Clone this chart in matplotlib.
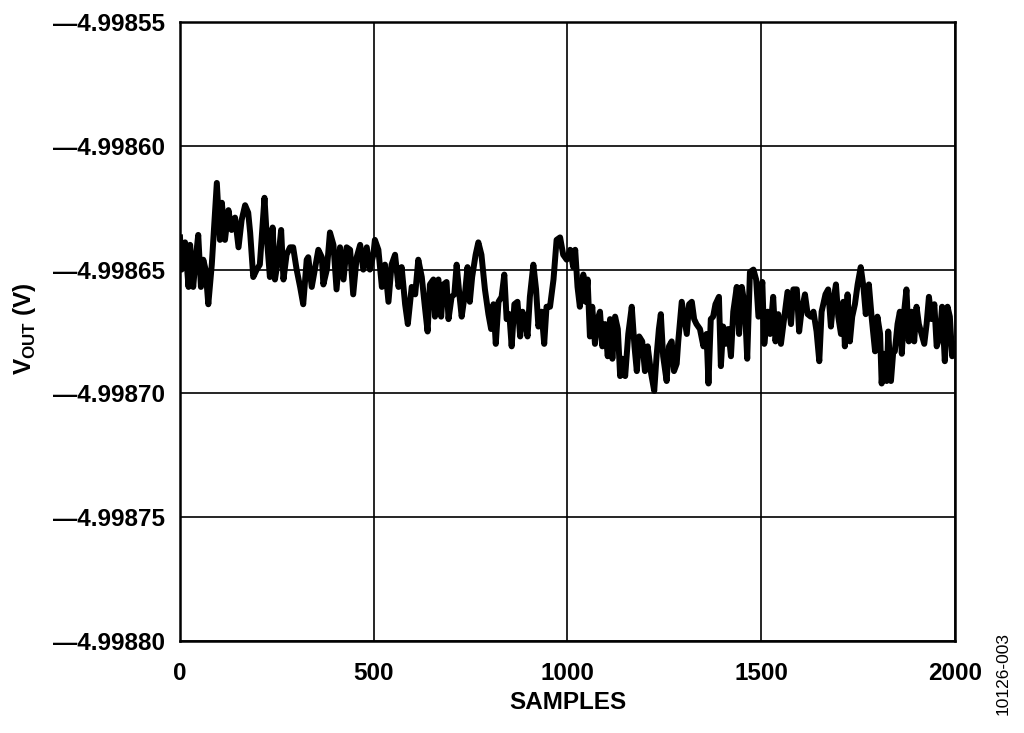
import numpy as np
import matplotlib.pyplot as plt
from matplotlib.ticker import FuncFormatter

plt.switch_backend('agg')
plt.rcParams['font.family'] = ['Liberation Sans', 'DejaVu Sans']
plt.rcParams['font.weight'] = 'bold'
plt.rcParams['mathtext.fontset'] = 'custom'
plt.rcParams['mathtext.rm'] = 'Liberation Sans:bold'
plt.rcParams['mathtext.bf'] = 'Liberation Sans:bold'

# sample index
samples = [
    0, 4, 13, 22, 26, 34, 39, 47, 54, 60, 66, 73, 82, 86, 95, 103,
    108, 116, 125, 133, 142, 151, 159, 168, 176, 181, 189, 198, 206, 218, 224, 232,
    239, 245, 254, 261, 267, 275, 284, 292, 301, 310, 318, 327, 331, 340, 348, 357,
    366, 370, 379, 387, 396, 404, 413, 422, 430, 439, 447, 456, 465, 473, 482, 490,
    499, 503, 512, 521, 529, 538, 546, 555, 564, 572, 581, 588, 598, 607, 615, 624,
    632, 639, 645, 654, 658, 667, 674, 680, 688, 693, 701, 708, 714, 721, 727, 736,
    742, 748, 754, 763, 770, 778, 787, 796, 803, 809, 815, 822, 830, 837, 843, 850,
    856, 863, 871, 878, 884, 890, 897, 903, 912, 919, 925, 933, 940, 946, 955, 964,
    972, 981, 989, 998, 1007, 1015, 1020, 1026, 1032, 1041, 1047, 1052, 1058, 1064, 1071, 1078,
    1084, 1090, 1097, 1104, 1110, 1116, 1123, 1130, 1136, 1142, 1149, 1157, 1166, 1173, 1179, 1185,
    1193, 1200, 1207, 1216, 1224, 1230, 1236, 1241, 1247, 1256, 1262, 1269, 1275, 1282, 1286, 1295,
    1302, 1308, 1314, 1321, 1327, 1333, 1342, 1351, 1359, 1364, 1370, 1376, 1382, 1391, 1396, 1402,
    1408, 1415, 1422, 1428, 1437, 1443, 1450, 1458, 1464, 1471, 1480, 1487, 1493, 1503, 1508, 1517,
    1523, 1531, 1537, 1544, 1551, 1560, 1568, 1577, 1583, 1592, 1598, 1604, 1613, 1620, 1628, 1635,
    1643, 1650, 1656, 1666, 1673, 1680, 1686, 1693, 1699, 1706, 1712, 1716, 1723, 1729, 1735, 1742,
    1749, 1757, 1764, 1770, 1778, 1785, 1794, 1800, 1807, 1811, 1817, 1824, 1828, 1835, 1841, 1845,
    1852, 1858, 1863, 1869, 1875, 1881, 1888, 1895, 1901, 1907, 1914, 1921, 1927, 1933, 1940, 1947,
    1953, 1961, 1967, 1974, 1981, 1987, 1993, 2000,
]

# output voltage (V)
vout = [
    -4.998637, -4.998650, -4.998639, -4.998657, -4.998640, -4.998657, -4.998648, -4.998636,
    -4.998657, -4.998646, -4.998650, -4.998664, -4.998648, -4.998638, -4.998615, -4.998638,
    -4.998623, -4.998638, -4.998626, -4.998634, -4.998629, -4.998641, -4.998630, -4.998624,
    -4.998627, -4.998635, -4.998653, -4.998650, -4.998648, -4.998621, -4.998637, -4.998653,
    -4.998633, -4.998654, -4.998645, -4.998634, -4.998654, -4.998644, -4.998641, -4.998641,
    -4.998650, -4.998657, -4.998664, -4.998646, -4.998645, -4.998657, -4.998650, -4.998642,
    -4.998645, -4.998656, -4.998650, -4.998635, -4.998640, -4.998658, -4.998641, -4.998654,
    -4.998641, -4.998642, -4.998660, -4.998645, -4.998640, -4.998650, -4.998641, -4.998650,
    -4.998644, -4.998638, -4.998642, -4.998657, -4.998648, -4.998663, -4.998648, -4.998644,
    -4.998657, -4.998649, -4.998664, -4.998672, -4.998657, -4.998660, -4.998646, -4.998653,
    -4.998665, -4.998675, -4.998656, -4.998654, -4.998669, -4.998654, -4.998669, -4.998656,
    -4.998655, -4.998670, -4.998661, -4.998660, -4.998648, -4.998660, -4.998669, -4.998659,
    -4.998649, -4.998663, -4.998653, -4.998644, -4.998639, -4.998644, -4.998658, -4.998668,
    -4.998674, -4.998664, -4.998680, -4.998663, -4.998661, -4.998652, -4.998670, -4.998668,
    -4.998681, -4.998664, -4.998663, -4.998677, -4.998667, -4.998670, -4.998677, -4.998661,
    -4.998648, -4.998658, -4.998673, -4.998667, -4.998680, -4.998665, -4.998665, -4.998654,
    -4.998638, -4.998637, -4.998644, -4.998646, -4.998642, -4.998649, -4.998642, -4.998657,
    -4.998665, -4.998652, -4.998663, -4.998654, -4.998677, -4.998665, -4.998680, -4.998670,
    -4.998667, -4.998681, -4.998672, -4.998685, -4.998670, -4.998686, -4.998669, -4.998674,
    -4.998693, -4.998686, -4.998693, -4.998676, -4.998665, -4.998681, -4.998691, -4.998677,
    -4.998679, -4.998691, -4.998681, -4.998692, -4.998699, -4.998685, -4.998674, -4.998668,
    -4.998685, -4.998695, -4.998681, -4.998679, -4.998691, -4.998688, -4.998679, -4.998663,
    -4.998670, -4.998676, -4.998664, -4.998663, -4.998670, -4.998672, -4.998674, -4.998681,
    -4.998676, -4.998696, -4.998670, -4.998669, -4.998664, -4.998661, -4.998689, -4.998673,
    -4.998680, -4.998674, -4.998685, -4.998667, -4.998657, -4.998676, -4.998657, -4.998665,
    -4.998686, -4.998651, -4.998650, -4.998654, -4.998669, -4.998655, -4.998680, -4.998667,
    -4.998676, -4.998661, -4.998679, -4.998668, -4.998680, -4.998669, -4.998659, -4.998672,
    -4.998658, -4.998658, -4.998675, -4.998667, -4.998660, -4.998668, -4.998669, -4.998667,
    -4.998675, -4.998687, -4.998667, -4.998660, -4.998658, -4.998673, -4.998663, -4.998656,
    -4.998669, -4.998676, -4.998663, -4.998681, -4.998660, -4.998679, -4.998669, -4.998664,
    -4.998656, -4.998649, -4.998657, -4.998668, -4.998656, -4.998669, -4.998683, -4.998669,
    -4.998676, -4.998696, -4.998684, -4.998695, -4.998675, -4.998695, -4.998683, -4.998683,
    -4.998672, -4.998667, -4.998684, -4.998667, -4.998658, -4.998679, -4.998667, -4.998679,
    -4.998665, -4.998672, -4.998676, -4.998680, -4.998672, -4.998661, -4.998670, -4.998664,
    -4.998681, -4.998677, -4.998665, -4.998687, -4.998665, -4.998669, -4.998685, -4.998680,
]

x_ticks = [0, 500, 1000, 1500, 2000]
y_ticks = [-4.99880, -4.99875, -4.99870, -4.99865, -4.99860, -4.99855]

assert len(samples) == len(vout)

fig = plt.figure(figsize=(10.24, 7.33), dpi=100)
ax = fig.add_axes([0.1758, 0.1255, 0.7567, 0.8445])

ax.plot(samples, vout, color='black', lw=4.3, solid_joinstyle='round', zorder=3)

ax.set_xlim(0, 2000)
ax.set_ylim(-4.99880, -4.99855)
ax.set_xticks(x_ticks)
ax.set_yticks(y_ticks)
# long dash as the minus sign, like the original
ax.yaxis.set_major_formatter(FuncFormatter(lambda v, p: f"{v:.5f}".replace('-', '\u2014')))
ax.tick_params(length=0, labelsize=17.5, pad=10.5)
ax.tick_params(axis='x', pad=15)
ax.grid(True, color='black', lw=1.2)
ax.set_axisbelow(True)
for s in ax.spines.values():
    s.set_linewidth(1.8)

ax.set_xlabel('SAMPLES', fontsize=17.5, fontweight='bold')
ax.xaxis.set_label_coords(0.5, -0.08)
ax.set_ylabel(r'V$_{\mathrm{OUT}}$ (V)', fontsize=17.5, fontweight='bold')
ax.yaxis.set_label_coords(-0.183, 0.505)

fig.text(0.980, 0.0805, '10126-003', rotation=90, fontsize=12.5, fontweight='normal',
         ha='center', va='center')

fig.savefig('out.png', dpi=100)
